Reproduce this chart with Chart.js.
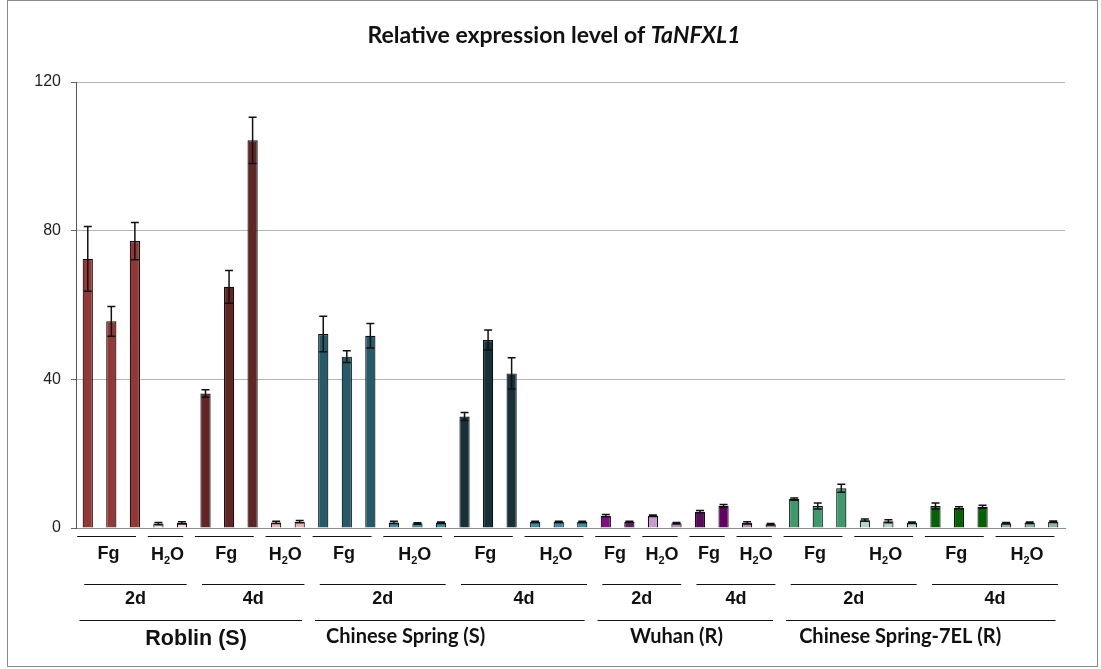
<!DOCTYPE html>
<html>
<head>
<meta charset="utf-8">
<script src="https://cdn.jsdelivr.net/npm/chart.js@4"></script>
<style>
  html, body { margin: 0; padding: 0; background: #fff; }
  #wrap { width: 1101px; height: 669px; position: relative; }
</style>
</head>
<body>
<div id="wrap"><canvas id="c" width="1101" height="669"></canvas></div>
<script>
// ---------------- DATA ----------------
const chartTitle = 'Relative expression level of ';
const chartTitleGene = 'TaNFXL1';
const cultivars = ['Roblin (S)', 'Chinese Spring (S)', 'Wuhan (R)', 'Chinese Spring-7EL (R)'];
const timepoints = ['2d', '4d'];
const treatments = ['Fg', 'H2O'];
// number of bars in each (timepoint, treatment) group: 2d Fg, 2d H2O, 4d Fg, 4d H2O
const replicateCounts = [
  [3, 2, 3, 2],
  [3, 3, 3, 3],
  [2, 2, 2, 2],
  [3, 3, 3, 3]
];
const roblinValues = [72.4, 55.6, 77.2, 1.2, 1.4, 36.2, 64.9, 104.3, 1.5, 1.7];
const roblinErrors = [8.7, 4.0, 5.0, 0.3, 0.3, 1.0, 4.4, 6.2, 0.3, 0.3];
const csValues = [52.2, 46.1, 51.7, 1.5, 1.2, 1.4, 30.0, 50.6, 41.6, 1.6, 1.6, 1.6];
const csErrors = [4.8, 1.6, 3.3, 0.3, 0.2, 0.2, 1.1, 2.7, 4.2, 0.2, 0.2, 0.2];
const wuhanValues = [3.3, 1.6, 3.3, 1.3, 4.4, 5.9, 1.4, 1.0];
const wuhanErrors = [0.3, 0.2, 0.2, 0.2, 0.3, 0.4, 0.3, 0.2];
const cs7elValues = [7.8, 5.9, 10.7, 2.1, 1.8, 1.4, 5.9, 5.4, 5.7, 1.3, 1.4, 1.7];
const cs7elErrors = [0.3, 0.8, 1.1, 0.3, 0.4, 0.2, 0.8, 0.3, 0.4, 0.2, 0.2, 0.2];
const yTicks = [0, 40, 80, 120];

// ---------------- STYLES ----------------
const roblinColors = ['#953735','#953735','#953735','#F2DCDB','#F2DCDB','#632523','#632523','#632523','#E6B9B8','#E6B9B8'];
const csColors = ['#235B6A','#235B6A','#235B6A','#3D8CA5','#3D8CA5','#3D8CA5','#173139','#173139','#173139','#3D8CA5','#3D8CA5','#3D8CA5'];
const wuhanColors = ['#7F0F7F','#5E1A5E','#CC99CC','#B890B8','#5C0C5C','#660066','#B394B3','#A385A3'];
const cs7elColors = ['#3C9A6C','#3C9A6C','#3C9A6C','#B3D6C5','#B3D6C5','#B3D6C5','#006400','#006400','#006400','#8DB59D','#8DB59D','#8DB59D'];
const cultivarLabelShift = [0.1, -2.0, -0.5, -1.0]; // in category widths

// ---------------- BUILD ----------------
const values = [].concat(roblinValues, csValues, wuhanValues, cs7elValues);
const errors = [].concat(roblinErrors, csErrors, wuhanErrors, cs7elErrors);
const colors = [].concat(roblinColors, csColors, wuhanColors, cs7elColors);
const categories = [];
const lvl1 = [], lvl2 = [], lvl3 = [];
let idx = 0;
cultivars.forEach((cv, ci) => {
  const cvStart = idx;
  timepoints.forEach((tp, ti) => {
    const tpStart = idx;
    treatments.forEach((tr, ri) => {
      const n = replicateCounts[ci][ti * 2 + ri];
      const grpStart = idx;
      for (let k = 0; k < n; k++) {
        categories.push(cv + ' ' + tp + ' ' + tr + ' ' + (k + 1));
        idx++;
      }
      lvl1.push({ label: tr, first: grpStart, last: idx - 1 });
    });
    lvl2.push({ label: tp, first: tpStart, last: idx - 1 });
  });
  lvl3.push({ label: cv, first: cvStart, last: idx - 1 });
});

function drawH2O(ctx, cx, cy, size, family) {
  ctx.save();
  ctx.textBaseline = 'alphabetic';
  ctx.textAlign = 'left';
  const big = 'bold ' + size + 'px ' + family;
  const small = 'bold ' + Math.round(size * 0.62) + 'px ' + family;
  ctx.font = big; const wH = ctx.measureText('H').width; const wO = ctx.measureText('O').width;
  ctx.font = small; const w2 = ctx.measureText('2').width;
  const total = wH + w2 + wO;
  let x = cx - total / 2;
  const base = cy + size * 0.36;
  ctx.font = big; ctx.fillText('H', x, base); x += wH;
  ctx.font = small; ctx.fillText('2', x, base + size * 0.22); x += w2;
  ctx.font = big; ctx.fillText('O', x, base);
  ctx.restore();
}

const errorBarPlugin = {
  id: 'errorBars',
  afterDatasetsDraw(chart) {
    const ctx = chart.ctx;
    const y = chart.scales.y;
    const meta = chart.getDatasetMeta(0);
    ctx.save();
    ctx.strokeStyle = '#111';
    ctx.lineWidth = 1.5;
    meta.data.forEach((bar, i) => {
      const v = values[i], e = errors[i];
      const x = bar.x;
      const yt = y.getPixelForValue(v + e);
      const yb = y.getPixelForValue(Math.max(0, v - e));
      const cap = 4;
      ctx.beginPath();
      ctx.moveTo(x, yt); ctx.lineTo(x, yb);
      ctx.moveTo(x - cap, yt); ctx.lineTo(x + cap, yt);
      ctx.moveTo(x - cap, yb); ctx.lineTo(x + cap, yb);
      ctx.stroke();
    });
    ctx.restore();
  }
};

const decorPlugin = {
  id: 'decor',
  afterDraw(chart) {
    const ctx = chart.ctx;
    const xs = chart.scales.x;
    const cw = xs.getPixelForValue(1) - xs.getPixelForValue(0);
    ctx.save();
    // frame
    ctx.strokeStyle = '#8a8a8a';
    ctx.lineWidth = 1;
    ctx.strokeRect(7.5, 0.5, 1090, 666);
    // title
    ctx.fillStyle = '#111';
    ctx.textBaseline = 'middle';
    const tf1 = 'bold 23px Lato', tf2 = 'italic bold 23px Lato';
    ctx.font = tf1; const w1 = ctx.measureText(chartTitle).width;
    ctx.font = tf2; const w2 = ctx.measureText(chartTitleGene).width;
    let tx = 554 - (w1 + w2) / 2;
    ctx.textAlign = 'left';
    ctx.font = tf1; ctx.fillText(chartTitle, tx, 36);
    ctx.font = tf2; ctx.fillText(chartTitleGene, tx + w1, 36);

    ctx.strokeStyle = '#111';
    ctx.lineWidth = 1.2;
    ctx.textAlign = 'center';
    const arial = '"Liberation Sans", Arial, sans-serif';
    // level 1
    lvl1.forEach(g => {
      const a = xs.getPixelForValue(g.first) - 0.45 * cw;
      const b = xs.getPixelForValue(g.last) + 0.05 * cw;
      ctx.beginPath(); ctx.moveTo(a, 536.5); ctx.lineTo(b, 536.5); ctx.stroke();
      const cx = (a + b) / 2 + 2;
      if (g.label === 'H2O') {
        drawH2O(ctx, cx, 554, 18, arial);
      } else {
        ctx.font = 'bold 18px ' + arial;
        ctx.fillText(g.label, cx, 554);
      }
    });
    // level 2
    lvl2.forEach(g => {
      const a = xs.getPixelForValue(g.first) - 0.15 * cw;
      const b = xs.getPixelForValue(g.last) + 0.2 * cw;
      ctx.beginPath(); ctx.moveTo(a, 584.5); ctx.lineTo(b, 584.5); ctx.stroke();
      ctx.font = 'bold 18px ' + arial;
      ctx.fillText(g.label, (a + b) / 2, 599);
    });
    // level 3
    lvl3.forEach((g, i) => {
      const a = xs.getPixelForValue(g.first) - 0.35 * cw;
      const b = xs.getPixelForValue(g.last) + 0.1 * cw;
      ctx.beginPath(); ctx.moveTo(a, 620.5); ctx.lineTo(b, 620.5); ctx.stroke();
      const c = (xs.getPixelForValue(g.first) + xs.getPixelForValue(g.last)) / 2 + cultivarLabelShift[i] * cw;
      if (i === 0) {
        ctx.font = 'bold 21.5px ' + arial;
        ctx.fillText(g.label, c, 639);
      } else {
        ctx.font = 'bold 20px Lato';
        ctx.fillText(g.label, c, 637);
      }
    });
    ctx.restore();
  }
};

new Chart(document.getElementById('c'), {
  type: 'bar',
  data: {
    labels: categories,
    datasets: [{
      data: values,
      backgroundColor: colors,
      borderColor: '#111',
      borderWidth: 1.2,
      barPercentage: 0.87,
      categoryPercentage: 0.5
    }]
  },
  options: {
    responsive: false,
    animation: false,
    devicePixelRatio: 1,
    layout: { padding: { top: 82, right: 36, bottom: 0, left: 0 } },
    plugins: { legend: { display: false }, tooltip: { enabled: false }, title: { display: false } },
    scales: {
      x: {
        grid: { display: false },
        ticks: { display: false },
        border: { color: '#8c8c8c', width: 1 },
        afterFit(s) { s.height = 141; }
      },
      y: {
        min: 0, max: 120,
        afterBuildTicks(s) { s.ticks = yTicks.map(v => ({ value: v })); },
        ticks: {
          padding: 10,
          color: '#222',
          font: { family: '"Liberation Sans", Arial, sans-serif', size: 16 }
        },
        grid: { color: '#b5b5b5', tickLength: 5, tickColor: '#666' },
        border: { color: '#555', width: 1 },
        afterFit(s) { s.width = 76; }
      }
    }
  },
  plugins: [errorBarPlugin, decorPlugin]
});
</script>
</body>
</html>
